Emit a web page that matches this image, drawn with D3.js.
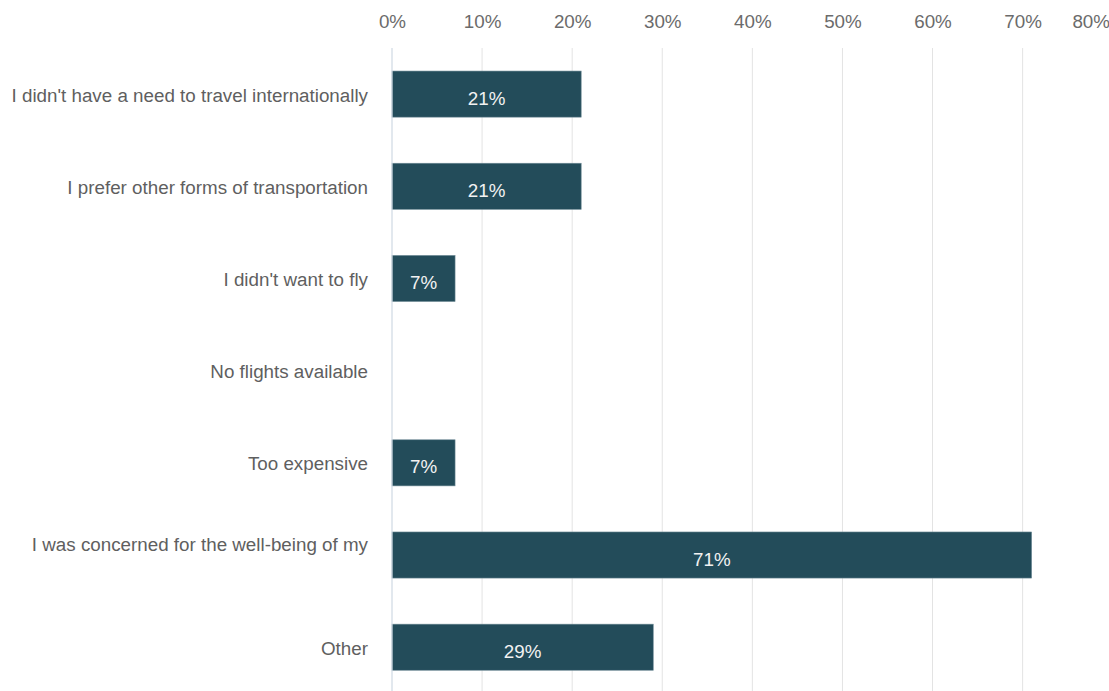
<!DOCTYPE html>
<html>
<head>
<meta charset="utf-8">
<script src="https://cdn.jsdelivr.net/npm/d3@7"></script>
<style>
  html, body { margin: 0; padding: 0; background: #ffffff; }
  svg { display: block; }
</style>
</head>
<body>
<svg id="chart" width="1109" height="691"></svg>
<script>
// Reasons for not travelling internationally (share of respondents)
const categories = [
  "I didn't have a need to travel internationally",
  "I prefer other forms of transportation",
  "I didn't want to fly",
  "No flights available",
  "Too expensive",
  "I was concerned for the well-being of my",
  "Other"
];
const values = [21, 21, 7, 0, 7, 71, 29];
const tickValues = [0, 10, 20, 30, 40, 50, 60, 70, 80];

// Labels whose text wraps onto a second (hidden) line sit half a line higher
const wrappedLabels = new Set(["I was concerned for the well-being of my"]);

const W = 1109, H = 691;
const margin = { top: 48, left: 392, right: -3.7, bottom: -2.3 };
const FONT = "'Liberation Sans', Arial, sans-serif";
const FS = 18.8;

const svg = d3.select("#chart");

const x = d3.scaleLinear()
  .domain([0, 80])
  .range([margin.left, W - margin.right]);

const y = d3.scaleBand()
  .domain(categories)
  .range([margin.top, H - margin.bottom])
  .paddingInner(0.5)
  .paddingOuter(0.25);

// vertical gridlines
svg.append("g")
  .selectAll("line")
  .data(tickValues.filter(d => d > 0))
  .join("line")
  .attr("x1", d => x(d)).attr("x2", d => x(d))
  .attr("y1", margin.top).attr("y2", H)
  .attr("stroke", "#e3e3e3")
  .attr("stroke-width", 1);

// top axis tick labels
const xAxis = d3.axisTop(x)
  .tickValues(tickValues)
  .tickFormat(d => d + "%")
  .tickSize(0)
  .tickPadding(0);

const gx = svg.append("g")
  .attr("transform", "translate(0,28)")
  .call(xAxis);
gx.select(".domain").remove();
gx.selectAll("text")
  .attr("font-family", FONT)
  .attr("font-size", FS)
  .attr("fill", "#6b6b6b")
  .attr("dy", 0);
// keep the last tick label inside the canvas
gx.selectAll(".tick text")
  .filter(d => d === tickValues[tickValues.length - 1])
  .attr("text-anchor", "end")
  .attr("x", function () { return W - x(tickValues[tickValues.length - 1]) + 0.5; });

// bars
const bars = svg.append("g")
  .selectAll("g")
  .data(categories.map((c, i) => ({ c, v: values[i] })))
  .join("g");

bars.filter(d => d.v > 0)
  .append("rect")
  .attr("x", x(0))
  .attr("y", d => y(d.c))
  .attr("width", d => x(d.v) - x(0))
  .attr("height", y.bandwidth())
  .attr("fill", "#234c5a")
  .attr("stroke", "#6f8b96")
  .attr("stroke-width", 0.6);

bars.filter(d => d.v > 0)
  .append("text")
  .attr("x", d => (x(0) + x(d.v)) / 2)
  .attr("y", d => y(d.c) + y.bandwidth() / 2)
  .attr("dy", 10.5)
  .attr("text-anchor", "middle")
  .attr("font-family", FONT)
  .attr("font-size", FS)
  .attr("fill", "#f2f2f2")
  .text(d => d.v + "%");

// category axis on the left
const yAxis = d3.axisLeft(y).tickSize(0).tickPadding(24);
const gy = svg.append("g")
  .attr("transform", `translate(${x(0)},0)`)
  .call(yAxis);
gy.select(".domain")
  .attr("d", `M0,${margin.top}V${H}`)
  .attr("stroke", "#cfd9e3")
  .attr("stroke-width", 1.2);
gy.selectAll(".tick text")
  .attr("font-family", FONT)
  .attr("font-size", FS)
  .attr("fill", "#5f5f5f")
  .attr("dy", d => wrappedLabels.has(d) ? -3.8 : 7.5);
</script>
</body>
</html>
